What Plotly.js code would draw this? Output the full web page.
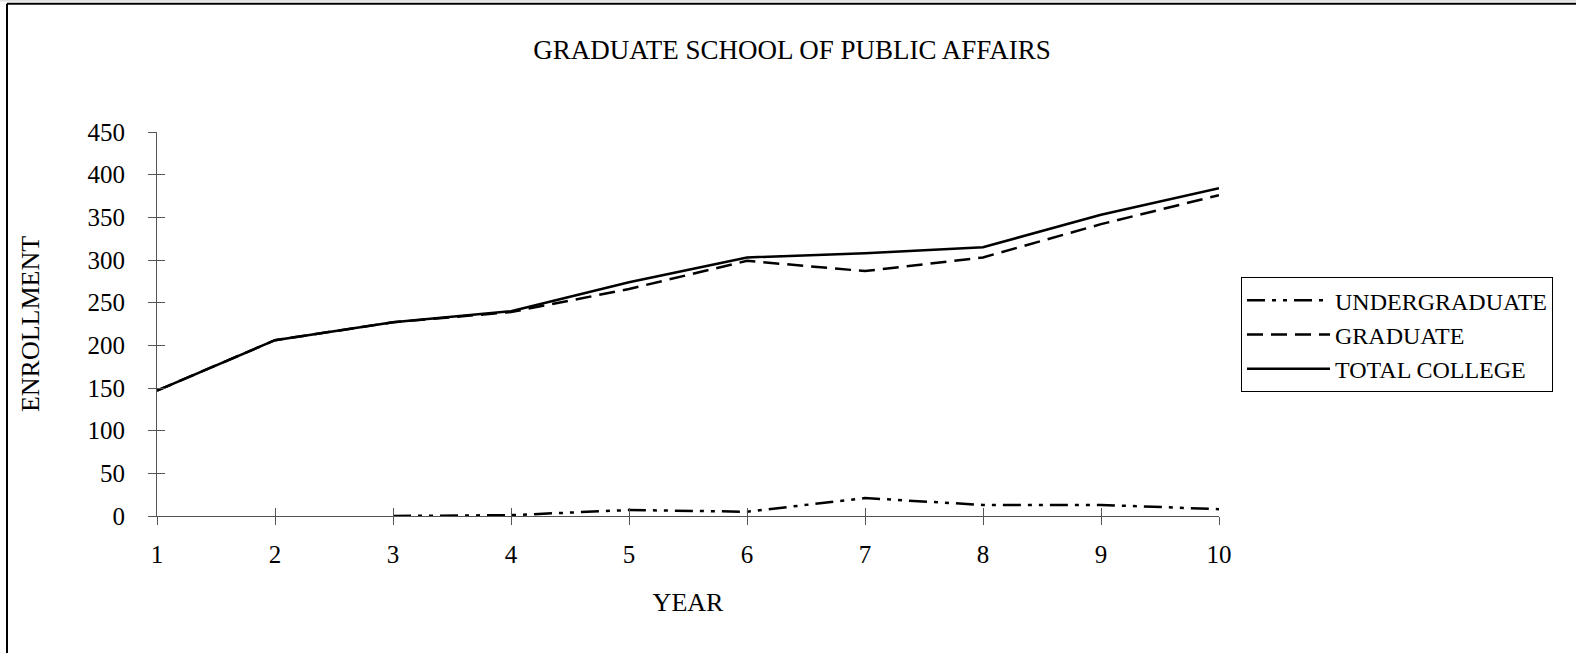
<!DOCTYPE html>
<html><head><meta charset="utf-8">
<script src="https://cdn.plot.ly/plotly-3.0.1.min.js"></script>
<style>html,body{margin:0;padding:0;background:#fff}</style>
</head><body><div id="chart" style="width:1576px;height:653px"></div>
<script>
const years = [1, 2, 3, 4, 5, 6, 7, 8, 9, 10];
const undergradYears = [3, 4, 5, 6, 7, 8, 9, 10];
const undergraduate = [0, 1, 7, 5, 21, 13, 13, 8];
const graduate = [147, 206, 227, 239, 266, 299, 287, 303, 342, 376];
const totalCollege = [147, 206, 227, 240, 274, 303, 308, 315, 353, 384];
const yTicks = [0, 50, 100, 150, 200, 250, 300, 350, 400, 450];
const seriesNames = ['UNDERGRADUATE', 'GRADUATE', 'TOTAL COLLEGE'];

const FONT = 'Liberation Serif, Times New Roman, serif';
const AX = '#555555';

const traces = [
  {x: undergradYears, y: undergraduate, name: seriesNames[0], mode: 'lines', legendgroup: 'a',
   line: {color: '#000', width: 2.5, dash: '18px,7px,4px,7px,4px,7px'}},
  {x: years, y: graduate, name: seriesNames[1], mode: 'lines', legendgroup: 'b',
   line: {color: '#000', width: 2.5, dash: '16px,8px'}},
  {x: years, y: totalCollege, name: seriesNames[2], mode: 'lines', legendgroup: 'c',
   line: {color: '#000', width: 2.5}},
  {x: [], y: [], xaxis: 'x2', yaxis: 'y2', showlegend: false, hoverinfo: 'skip', mode: 'lines'}
];

const W = 1576, H = 653, L = 157, R = 1219, T = 132, B = 515.6;
const px = v => (v - L) / (R - L);
const py = v => (B - v) / (B - T);

const layout = {
  width: W, height: H,
  margin: {l: L, r: W - R, t: T, b: H - B, pad: 0},
  paper_bgcolor: '#fff', plot_bgcolor: '#fff',
  font: {family: FONT, size: 25, color: '#000'},
  title: {text: 'GRADUATE SCHOOL OF PUBLIC AFFAIRS', font: {family: FONT, size: 27, color: '#000'},
          xref: 'container', x: 792 / W, xanchor: 'center', yref: 'container', y: 1 - 50 / H, yanchor: 'middle'},
  xaxis: {range: [1, 10], tickvals: years, ticktext: years.map(String), showgrid: false, zeroline: false,
          showline: true, linecolor: AX, linewidth: 1, ticks: 'outside', ticklen: 8, tickcolor: AX, tickwidth: 1,
          ticklabelstandoff: 8,
          tickfont: {family: FONT, size: 25, color: '#000'},
          title: {text: 'YEAR', font: {family: FONT, size: 26, color: '#000'}, standoff: 25}},
  yaxis: {range: [0, 450], tickvals: yTicks, ticktext: yTicks.map(String), showgrid: false, zeroline: false,
          showline: true, linecolor: AX, linewidth: 1, ticks: 'outside', ticklen: 8, tickcolor: AX, tickwidth: 1,
          ticklabelstandoff: 18,
          tickfont: {family: FONT, size: 25, color: '#000'},
          title: {text: 'ENROLLMENT', font: {family: FONT, size: 26, color: '#000'}, standoff: 40}},
  xaxis2: {overlaying: 'x', anchor: 'y', range: [1, 10], tickvals: years, showticklabels: false, showgrid: false,
           zeroline: false, showline: false, ticks: 'inside', ticklen: 8, tickcolor: AX, tickwidth: 1},
  yaxis2: {overlaying: 'y', anchor: 'x', range: [0, 450], tickvals: yTicks, showticklabels: false, showgrid: false,
           zeroline: false, showline: false, ticks: 'inside', ticklen: 8, tickcolor: AX, tickwidth: 1},
  showlegend: true,
  legend: {x: px(1241), y: py(277), xanchor: 'left', yanchor: 'top', bgcolor: '#fff',
           bordercolor: '#000', borderwidth: 1, font: {family: FONT, size: 24, color: '#000'},
           traceorder: 'normal', itemwidth: 83, tracegroupgap: 6},
  shapes: [
    {type: 'line', xref: 'paper', yref: 'paper', x0: px(7), x1: px(7), y0: py(4), y1: py(H + 5), line: {color: '#000', width: 2}},
    {type: 'line', xref: 'paper', yref: 'paper', x0: px(7), x1: px(W + 5), y0: py(4), y1: py(4), line: {color: '#000', width: 2}},
    {type: 'line', xref: 'paper', yref: 'paper', x0: px(0), x1: px(W + 5), y0: py(1), y1: py(1), line: {color: '#d0d0d0', width: 1}}
  ]
};

Plotly.newPlot('chart', traces, layout, {displayModeBar: false, staticPlot: true});
</script></body></html>
